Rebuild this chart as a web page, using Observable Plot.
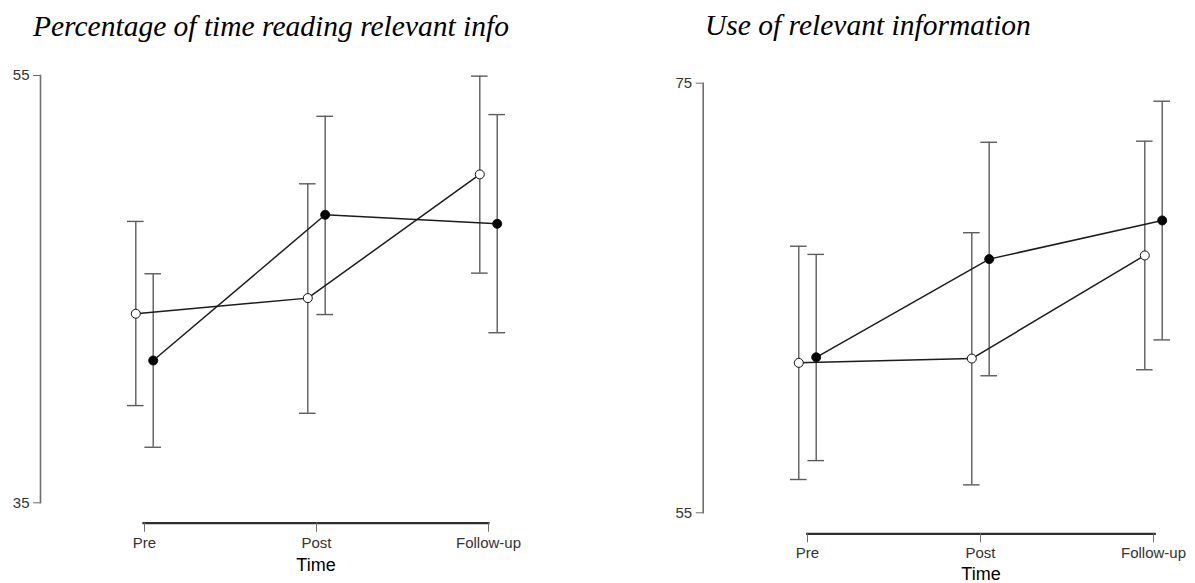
<!DOCTYPE html>
<html>
<head>
<meta charset="utf-8">
<script src="https://cdn.jsdelivr.net/npm/d3@7"></script>
<script src="https://cdn.jsdelivr.net/npm/@observablehq/plot@0.6"></script>
<style>
  html, body { margin: 0; padding: 0; background: #fff; }
  #chart { position: relative; width: 1195px; height: 583px; overflow: hidden; }
  .panel { position: absolute; top: 0; width: 597px; height: 583px; }
  .panel svg { position: absolute; left: 0; top: 0; }
  .title {
    position: absolute; white-space: nowrap; z-index: 2;
    font-family: "Liberation Serif", "Times New Roman", serif;
    font-style: italic; font-size: 29.5px; line-height: 29.5px; color: #000;
  }
</style>
</head>
<body>
<div id="chart"></div>
<script>
// Measurement occasions on the x axis
const times = ["Pre", "Post", "Follow-up"];

// Panel 1: percentage of time reading relevant info (means with interval bounds)
const readingOpenMean   = [43.85, 44.58, 50.37];
const readingOpenLow    = [39.55, 39.19, 45.75];
const readingOpenHigh   = [48.17, 49.93, 54.97];
const readingFilledMean = [41.66, 48.48, 48.06];
const readingFilledLow  = [37.60, 43.81, 42.96];
const readingFilledHigh = [45.72, 53.09, 53.17];
const readingTicks = [35, 55];

// Panel 2: use of relevant information
const useOpenMean   = [61.98, 62.18, 66.98];
const useOpenLow    = [56.55, 56.30, 61.66];
const useOpenHigh   = [67.41, 68.04, 72.30];
const useFilledMean = [62.24, 66.81, 68.61];
const useFilledLow  = [57.43, 61.38, 63.05];
const useFilledHigh = [67.03, 72.25, 74.16];
const useTicks = [55, 75];

function rows(mean, low, high) {
  return times.map((t, i) => ({time: t, mean: mean[i], low: low[i], high: high[i]}));
}

const barColor = "#5c5c5c";
const lineColor = "#1c1c1c";

function groupMarks(data, fill, dx) {
  return {
    bars: [
      Plot.ruleX(data, {x: "time", y1: "low", y2: "high", dx, stroke: barColor, strokeWidth: 1.4}),
      Plot.ruleY(data, {x1: "time", x2: "time", y: "low", dx, insetLeft: -8.3, insetRight: -8.3, stroke: barColor, strokeWidth: 1.4}),
      Plot.ruleY(data, {x1: "time", x2: "time", y: "high", dx, insetLeft: -8.3, insetRight: -8.3, stroke: barColor, strokeWidth: 1.4})
    ],
    line: Plot.line(data, {x: "time", y: "mean", dx, stroke: lineColor, strokeWidth: 1.5}),
    dot: Plot.dot(data, {x: "time", y: "mean", dx, r: 4.5, fill, stroke: "#111", strokeWidth: 1})
  };
}

function panel(cfg) {
  const a = groupMarks(rows(...cfg.open), "#fff", -8.7);
  const b = groupMarks(rows(...cfg.filled), "#000", 8.7);
  return Plot.plot({
    width: 597,
    height: 583,
    marginLeft: cfg.marginLeft,
    marginRight: cfg.marginRight,
    marginTop: cfg.marginTop,
    marginBottom: cfg.marginBottom,
    style: {fontFamily: "'Liberation Sans', Arial, sans-serif", color: "#333", background: "#fff", overflow: "visible"},
    x: {type: "point", domain: times, padding: 0, axis: null},
    y: {domain: cfg.yDomain, insetBottom: cfg.gap, axis: null},
    marks: [
      // y axis line, set off to the left of the first occasion
      Plot.frame({anchor: "left", insetLeft: -cfg.yOffset, insetBottom: cfg.gap, stroke: "#6e6e6e", strokeWidth: 1.6}),
      Plot.axisY({ticks: cfg.yTicks, tickSize: 7, tickPadding: 4, dx: -cfg.yOffset, fontSize: 15, stroke: "#6e6e6e", label: null}),
      // x axis line spanning the occasions
      Plot.frame({anchor: "bottom", stroke: "#2e2e2e", strokeWidth: 2.2}),
      Plot.axisX({anchor: "bottom", tickSize: 9, tickPadding: 5, fontSize: 15, stroke: "#6e6e6e", label: null}),
      Plot.axisX({anchor: "bottom", ticks: [], tickSize: 0, fontSize: 18, label: "Time", labelAnchor: "center", labelOffset: cfg.labelOffset, color: "#000"}),
      ...a.bars, ...b.bars,
      a.line, b.line,
      a.dot, b.dot
    ]
  });
}

const chart = document.getElementById("chart");

function addPanel(left, title, titlePos, cfg) {
  const div = document.createElement("div");
  div.className = "panel";
  div.style.left = left + "px";
  div.appendChild(panel(cfg));
  const t = document.createElement("div");
  t.className = "title";
  t.textContent = title;
  t.style.left = titlePos[0] + "px";
  t.style.top = titlePos[1] + "px";
  div.appendChild(t);
  chart.appendChild(div);
}

addPanel(0, "Percentage of time reading relevant info", [33, 12], {
  open: [readingOpenMean, readingOpenLow, readingOpenHigh],
  filled: [readingFilledMean, readingFilledLow, readingFilledHigh],
  yDomain: [35, 55], yTicks: readingTicks,
  marginLeft: 143, marginRight: 109, marginTop: 75, marginBottom: 60.3,
  gap: 20.4, yOffset: 103, labelOffset: 48
});

addPanel(598, "Use of relevant information", [107, 11], {
  open: [useOpenMean, useOpenLow, useOpenHigh],
  filled: [useFilledMean, useFilledLow, useFilledHigh],
  yDomain: [55, 75], yTicks: useTicks,
  marginLeft: 208.7, marginRight: 40.7, marginTop: 82.7, marginBottom: 49.7,
  gap: 21, yOffset: 104, labelOffset: 46
});
</script>
</body>
</html>
